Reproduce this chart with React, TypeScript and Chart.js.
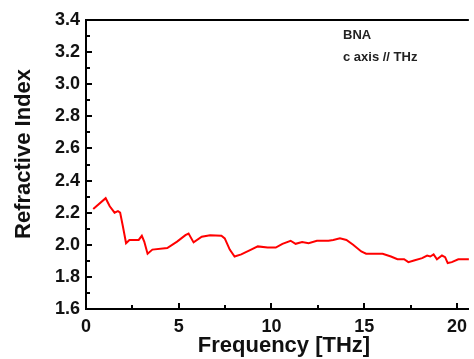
import { useEffect, useRef } from "react";
import { Chart, registerables } from "chart.js";

Chart.register(...registerables);

// Frequency (THz) and refractive index
const frequencyTHz = [
  0.39, 1.06, 1.28, 1.54, 1.72, 1.84, 1.99, 2.16, 2.34, 2.84, 3.01, 3.14, 3.32, 3.58,
  4.38, 4.91, 5.36, 5.53, 5.8, 6.24, 6.69, 7.3, 7.48, 7.75, 8.01, 8.37, 8.9, 9.26,
  9.79, 10.23, 10.59, 11.03, 11.3, 11.65, 12.0, 12.45, 13.07, 13.33, 13.69, 14.04,
  14.4, 14.84, 15.1, 15.99, 16.44, 16.79, 17.15, 17.38, 17.68, 18.12, 18.39, 18.56,
  18.74, 18.92, 19.19, 19.36, 19.5, 19.72, 20.07, 20.7,
];
const refractiveIndex = [
  2.223, 2.29, 2.24, 2.2, 2.21, 2.2, 2.114, 2.01, 2.03, 2.03, 2.056, 2.02, 1.944, 1.97,
  1.98, 2.02, 2.06, 2.07, 2.015, 2.05, 2.06, 2.056, 2.04, 1.97, 1.927, 1.94, 1.97, 1.99,
  1.983, 1.983, 2.006, 2.025, 2.006, 2.017, 2.01, 2.025, 2.025, 2.03, 2.04, 2.03,
  2.0, 1.958, 1.944, 1.944, 1.927, 1.91, 1.91, 1.892, 1.902, 1.917, 1.933, 1.927,
  1.94, 1.91, 1.933, 1.923, 1.886, 1.892, 1.91, 1.91,
];

const xTickValues = [0, 5, 10, 15, 20];
const yTickValues = [1.6, 1.8, 2.0, 2.2, 2.4, 2.6, 2.8, 3.0, 3.2, 3.4];
const xMinorValues = [2.5, 7.5, 12.5, 17.5];
const yMinorValues = [1.7, 1.9, 2.1, 2.3, 2.5, 2.7, 2.9, 3.1, 3.3];
const xAxisTitle = "Frequency [THz]";
const yAxisTitle = "Refractive Index";
const annotationLines = ["BNA", "c axis // THz"];

const FONT = '"Liberation Sans", Arial, sans-serif';

export default function App() {
  const canvasRef = useRef<HTMLCanvasElement | null>(null);

  useEffect(() => {
    document.body.style.margin = "0";
    const canvas = canvasRef.current;
    if (!canvas) return;

    const decorPlugin = {
      id: "decor",
      afterDraw(chart: any) {
        const ctx = chart.ctx as CanvasRenderingContext2D;
        const { left, right, top, bottom } = chart.chartArea;
        const xs = chart.scales.x;
        const ys = chart.scales.y;
        ctx.save();
        // top frame line
        ctx.strokeStyle = "#000";
        ctx.lineWidth = 2;
        ctx.beginPath();
        ctx.moveTo(left - 1, top);
        ctx.lineTo(right, top);
        ctx.stroke();
        // inward ticks
        ctx.lineWidth = 2;
        const drawY = (v: number, len: number) => {
          const p = Math.round(ys.getPixelForValue(v));
          ctx.beginPath();
          ctx.moveTo(left, p);
          ctx.lineTo(left + len, p);
          ctx.stroke();
        };
        const drawX = (v: number, len: number) => {
          const p = Math.round(xs.getPixelForValue(v));
          ctx.beginPath();
          ctx.moveTo(p, bottom);
          ctx.lineTo(p, bottom - len);
          ctx.stroke();
        };
        yTickValues.forEach((v) => drawY(v, 6));
        yMinorValues.forEach((v) => drawY(v, 4));
        xTickValues.forEach((v) => v > 0 && drawX(v, 6));
        xMinorValues.forEach((v) => drawX(v, 4));
        // axis titles
        ctx.fillStyle = "#111";
        ctx.font = `bold 22px ${FONT}`;
        ctx.textAlign = "center";
        ctx.textBaseline = "middle";
        ctx.fillText(xAxisTitle, 284, 346);
        ctx.save();
        ctx.translate(24, 154);
        ctx.rotate(-Math.PI / 2);
        ctx.fillText(yAxisTitle, 0, 0);
        ctx.restore();
        // annotation
        ctx.font = `bold 13px ${FONT}`;
        ctx.textAlign = "left";
        ctx.fillStyle = "#222";
        ctx.fillText(annotationLines[0], 343, 35);
        ctx.fillText(annotationLines[1], 343, 57);
        ctx.restore();
      },
    };

    const chart = new Chart(canvas, {
      type: "line",
      data: {
        datasets: [
          {
            data: frequencyTHz.map((f, i) => ({ x: f, y: refractiveIndex[i] })),
            borderColor: "#ff0000",
            borderWidth: 2,
            pointRadius: 0,
            tension: 0,
            fill: false,
          },
        ],
      },
      options: {
        animation: false,
        responsive: false,
        devicePixelRatio: 1,
        layout: { padding: { top: 20, right: 0, left: 0, bottom: 0 } },
        plugins: { legend: { display: false }, tooltip: { enabled: false } },
        scales: {
          x: {
            type: "linear",
            min: 0,
            max: 20.64,
            afterFit: (s: any) => {
              s.height = 50;
            },
            afterBuildTicks: (s: any) => {
              s.ticks = xTickValues.map((v) => ({ value: v }));
            },
            grid: { display: false, drawTicks: false },
            border: { display: true, color: "#000", width: 2 },
            ticks: {
              includeBounds: false,
              padding: 7,
              color: "#111",
              font: { family: FONT, size: 18, weight: "bold" },
              callback: (v: any) => String(v),
            },
          },
          y: {
            type: "linear",
            min: 1.6,
            max: 3.4,
            afterFit: (s: any) => {
              s.width = 86;
            },
            afterBuildTicks: (s: any) => {
              s.ticks = yTickValues.map((v) => ({ value: v }));
            },
            grid: { display: false, drawTicks: false },
            border: { display: true, color: "#000", width: 2 },
            ticks: {
              padding: 6,
              color: "#111",
              font: { family: FONT, size: 18, weight: "bold" },
              callback: (v: any) => Number(v).toFixed(1),
            },
          },
        },
      },
      plugins: [decorPlugin],
    } as any);

    return () => chart.destroy();
  }, []);

  return (
    <div style={{ width: 474, height: 359, background: "#fff" }}>
      <canvas ref={canvasRef} width={474} height={359} />
    </div>
  );
}
